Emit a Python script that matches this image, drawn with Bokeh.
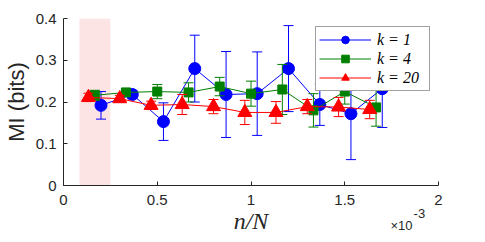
from bokeh.plotting import figure
from bokeh.models import (FixedTicker, Legend, LegendItem, Label, BoxAnnotation, Range1d)
from bokeh.embed import file_html
from bokeh.resources import INLINE

# ---- data (n/N in units of 1e-3) ----
x_k1 = [0.200, 0.367, 0.533, 0.700, 0.867, 1.033, 1.200, 1.367, 1.533, 1.700]
y_k1 = [0.192, 0.218, 0.153, 0.280, 0.218, 0.220, 0.280, 0.194, 0.172, 0.232]
e_k1 = [0.033, 0.010, 0.045, 0.080, 0.103, 0.100, 0.103, 0.050, 0.110, 0.093]

x_k4 = [0.167, 0.333, 0.500, 0.667, 0.833, 1.000, 1.167, 1.333, 1.500, 1.667]
y_k4 = [0.216, 0.223, 0.225, 0.223, 0.237, 0.220, 0.230, 0.180, 0.225, 0.187]
e_k4 = [0.012, 0.008, 0.017, 0.023, 0.022, 0.030, 0.060, 0.040, 0.030, 0.045]

x_k20 = [0.133, 0.300, 0.467, 0.633, 0.800, 0.967, 1.133, 1.300, 1.467, 1.633]
y_k20 = [0.211, 0.208, 0.192, 0.194, 0.189, 0.175, 0.175, 0.189, 0.188, 0.182]
e_k20 = [0.010, 0.008, 0.010, 0.024, 0.017, 0.029, 0.026, 0.017, 0.023, 0.022]

labels = ["k = 1", "k = 4", "k = 20"]
shade_x = [0.085, 0.25]

x_ticks = [0, 0.5, 1, 1.5, 2]
x_tick_labels = ["0", "0.5", "1", "1.5", "2"]
y_ticks = [0, 0.1, 0.2, 0.3, 0.4]
y_tick_labels = ["0", "0.1", "0.2", "0.3", "0.4"]

AX = "#262626"

p = figure(width=481, height=240, output_backend="svg", toolbar_location=None,
           x_range=Range1d(0, 2), y_range=Range1d(0, 0.4),
           min_border_left=63, min_border_right=43, min_border_top=18, min_border_bottom=55)
p.outline_line_color = None
p.xgrid.visible = False
p.ygrid.visible = False
p.background_fill_color = "white"

p.add_layout(BoxAnnotation(left=shade_x[0], right=shade_x[1], bottom=0, top=0.4,
                           fill_color="#fde4e4", fill_alpha=1.0, line_color=None, level="underlay"))

series = [
    (x_k1, y_k1, e_k1, "#0000ff", "circle", 12),
    (x_k4, y_k4, e_k4, "#008000", "square", 9),
    (x_k20, y_k20, e_k20, "#ff0000", "triangle", 14),
]

items = []
for (xs, ys, es, col, mk, sz), lab in zip(series, labels):
    lo = [y - e for y, e in zip(ys, es)]
    hi = [y + e for y, e in zip(ys, es)]
    p.segment(x0=xs, y0=lo, x1=xs, y1=hi, line_color=col, line_width=1)
    p.scatter(x=xs, y=lo, marker="dash", size=10, line_color=col, line_width=1)
    p.scatter(x=xs, y=hi, marker="dash", size=10, line_color=col, line_width=1)
    lr = p.line(x=xs, y=ys, line_color=col, line_width=1)
    mr = p.scatter(x=xs, y=ys, marker=mk, size=sz, fill_color=col, line_color=col)
    items.append(LegendItem(label=lab, renderers=[lr, mr]))

legend = Legend(items=items, location="top_right", glyph_width=52, glyph_height=19,
                label_height=19, label_width=49,
                label_text_font="Liberation Serif", label_text_font_style="italic",
                label_text_font_size="16px", label_text_color="black",
                border_line_color="#444444", border_line_width=1,
                padding=3, spacing=0, margin=8, label_standoff=6,
                background_fill_alpha=1.0)
p.add_layout(legend)

for ax in (p.xaxis[0], p.yaxis[0]):
    ax.axis_line_color = AX
    ax.major_tick_line_color = AX
    ax.major_tick_in = 4
    ax.major_tick_out = 0
    ax.minor_tick_line_color = None
    ax.major_label_text_font = "Liberation Sans"
    ax.major_label_text_font_size = "15px"
    ax.major_label_text_color = AX

p.xaxis.ticker = FixedTicker(ticks=x_ticks)
p.xaxis.major_label_overrides = dict(zip(x_ticks, x_tick_labels))
p.yaxis.ticker = FixedTicker(ticks=y_ticks)
p.yaxis.major_label_overrides = dict(zip(y_ticks, y_tick_labels))
p.xaxis.major_label_standoff = 9
p.yaxis.major_label_standoff = 7

p.xaxis.axis_label = "n/N"
p.xaxis.axis_label_text_font = "Liberation Serif"
p.xaxis.axis_label_text_font_style = "italic"
p.xaxis.axis_label_text_font_size = "24px"
p.xaxis.axis_label_text_color = AX
p.xaxis.axis_label_standoff = 0

p.yaxis.axis_label = "MI (bits)"
p.yaxis.axis_label_text_font = "Liberation Sans"
p.yaxis.axis_label_text_font_style = "normal"
p.yaxis.axis_label_text_font_size = "22px"
p.yaxis.axis_label_text_color = AX
p.yaxis.axis_label_standoff = 4

# exponent marker of the x axis (placed in a side panel so it is not clipped to the frame)
p.add_layout(Label(x=1.744, y=-0.097, text="\u00d710", text_font="Liberation Sans",
                   text_font_size="13px", text_color=AX, text_baseline="alphabetic"), "right")
p.add_layout(Label(x=1.867, y=-0.068, text="-3", text_font="Liberation Sans",
                   text_font_size="13px", text_color=AX, text_baseline="alphabetic"), "right")

open("out.html", "w").write(file_html(p, INLINE))
